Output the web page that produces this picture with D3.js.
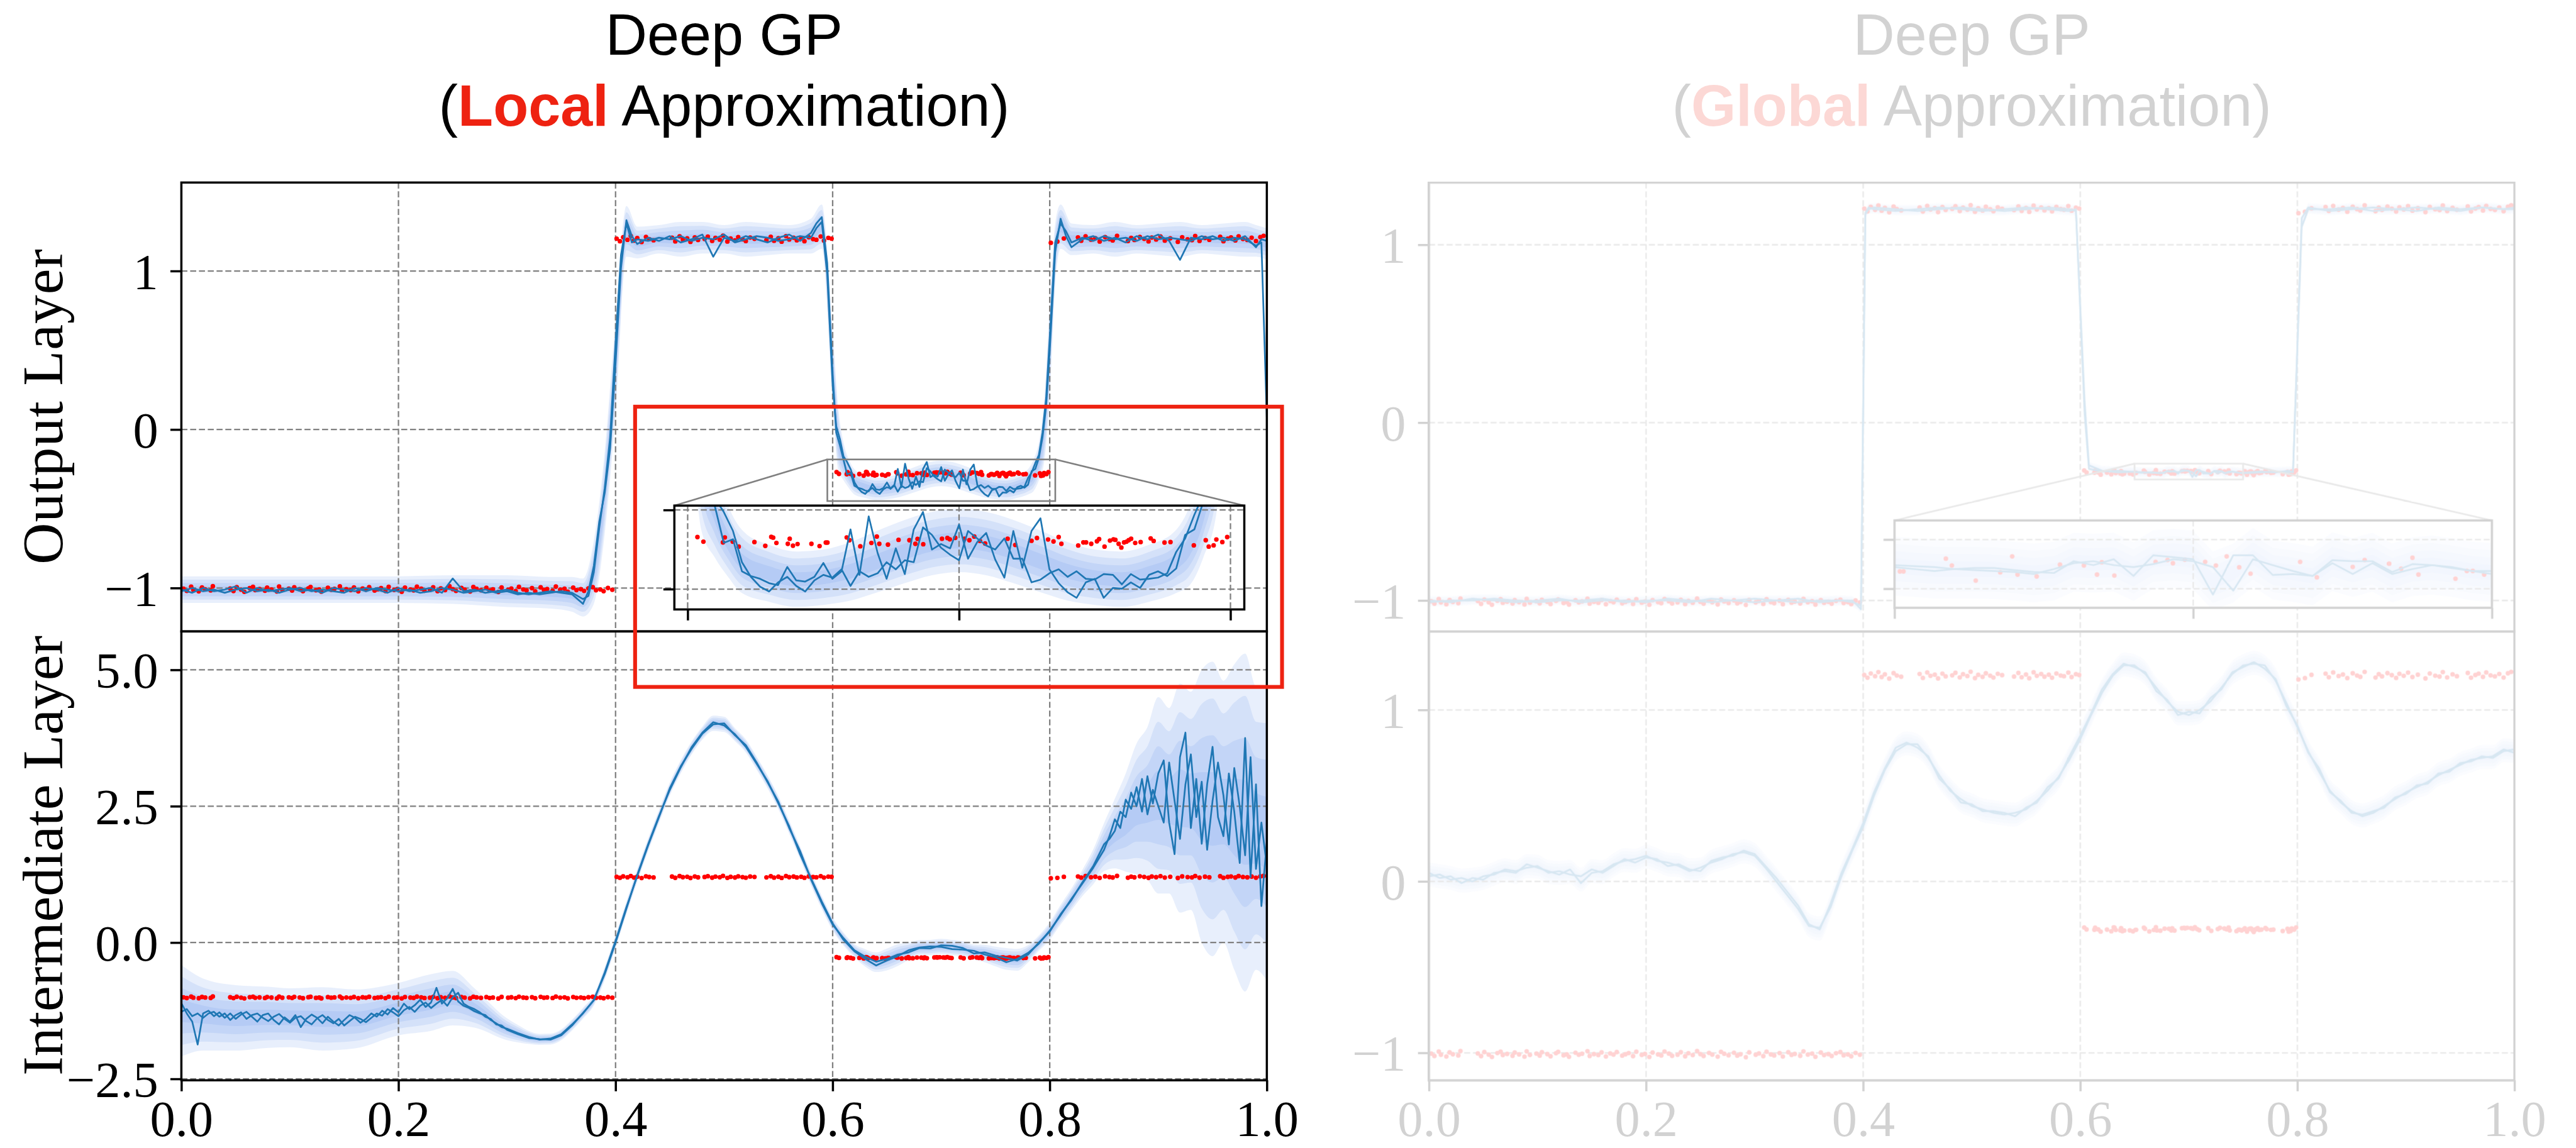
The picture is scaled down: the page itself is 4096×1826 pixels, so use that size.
<!DOCTYPE html>
<html>
<head>
<meta charset="utf-8">
<title>Deep GP: local vs global approximation</title>
<script src="https://cdn.jsdelivr.net/npm/d3@7"></script>
<style>
  html, body { margin: 0; padding: 0; background: #fff; overflow: hidden; }
  svg { display: block; }
</style>
</head>
<body>
<svg id="fig" width="4096" height="1826" viewBox="0 0 4687 2089"></svg>
<script>
// ---------------------------------------------------------------------------
// Observations (step-function targets with small noise), shared by all panels
// ---------------------------------------------------------------------------
const obsX = [
  // x < 0.4
  0.002,0.005,0.009,0.011,0.016,0.019,0.022,0.027,0.029,0.045,
  0.048,0.051,0.055,0.058,0.063,0.066,0.068,0.072,0.077,0.079,
  0.083,0.088,0.090,0.093,0.099,0.102,0.104,0.109,0.112,0.117,
  0.119,0.124,0.127,0.129,0.135,0.138,0.141,0.146,0.148,0.152,
  0.156,0.159,0.163,0.167,0.170,0.173,0.178,0.181,0.184,0.188,
  0.191,0.196,0.199,0.203,0.206,0.211,0.214,0.217,0.221,0.224,
  0.229,0.232,0.236,0.239,0.243,0.247,0.250,0.253,0.258,0.261,
  0.266,0.269,0.272,0.276,0.281,0.284,0.287,0.292,0.295,0.301,
  0.304,0.308,0.311,0.315,0.318,0.323,0.326,0.331,0.334,0.337,
  0.342,0.345,0.349,0.353,0.356,0.361,0.364,0.368,0.371,0.375,
  0.379,0.382,0.386,0.389,0.393,0.397,
  // 0.4 - 0.6
  0.401,0.404,0.407,0.411,0.414,0.417,0.420,0.424,0.428,0.431,0.435,
  0.452,0.455,0.459,0.462,0.466,0.469,0.473,0.476,
  0.482,0.485,0.489,0.492,0.496,0.499,0.503,0.506,0.510,0.513,0.517,0.520,0.524,0.528,
  0.539,0.543,0.546,0.550,0.553,0.557,0.560,0.564,0.567,0.571,0.574,0.578,0.582,0.585,0.589,0.592,0.596,0.599,
  // 0.6 - 0.8
  0.6036,0.6058,0.6130,0.6137,0.6166,0.6188,0.6246,0.6286,0.6308,0.6315,
  0.6327,0.6369,0.6376,0.6388,0.6405,0.6456,0.6486,0.6509,0.6515,0.6586,
  0.6596,0.6636,0.6677,0.6697,0.6706,0.6738,0.6777,0.6817,0.6839,0.6847,
  0.6868,0.6937,0.6957,0.6966,0.6986,0.7020,0.7038,0.7056,0.7077,0.7096,
  0.7179,0.7207,0.7267,0.7287,0.7328,0.7348,0.7367,0.7377,0.7439,0.7458,
  0.7468,0.7487,0.7508,0.7516,0.7536,0.7556,0.7569,0.7576,0.7588,0.7598,
  0.7608,0.7617,0.7625,0.7634,0.7649,0.7669,0.7706,0.7717,0.7757,0.7779,
  0.7865,0.7909,0.7920,0.7938,0.7948,0.7970,0.7988,
  // 0.8 - 1.0
  0.801,0.807,0.813,0.826,0.829,0.833,0.838,0.842,0.846,0.851,
  0.855,0.858,0.862,0.872,0.875,0.878,0.883,0.887,0.891,0.894,
  0.898,0.902,0.906,0.911,0.918,0.922,0.927,0.931,0.934,0.938,
  0.943,0.947,0.957,0.960,0.964,0.967,0.971,0.974,0.978,0.982,
  0.986,0.990,0.994,0.997
];
const obsY = [
  -1.004,-1.018,-0.992,-1.011,-1.021,-0.997,-1.008,-1.015,-0.989,-1.003,
  -1.019,-0.995,-1.010,-1.024,-1.001,-0.993,-1.013,-1.006,-1.017,-0.998,
  -1.009,-1.022,-0.991,-1.012,-1.004,-1.016,-0.996,-1.007,-1.020,-1.002,
  -0.994,-1.014,-1.009,-1.023,-0.999,-1.011,-1.005,-0.990,-1.018,-1.007,
  -1.013,-0.997,-1.021,-1.003,-1.010,-0.995,-1.016,-1.008,-1.001,-1.019,
  -0.993,-1.012,-1.006,-1.024,-0.998,-1.009,-1.015,-0.992,-1.004,-1.017,
  -1.011,-0.996,-1.020,-1.002,-1.013,-0.989,-1.007,-1.018,-1.000,-1.010,
  -1.022,-0.994,-1.005,-1.014,-0.999,-1.016,-1.008,-1.025,-0.997,-1.011,
  -1.003,-1.019,-0.993,-1.009,-1.015,-1.001,-1.021,-0.996,-1.012,-1.006,
  -1.017,-0.991,-1.010,-1.004,-1.023,-0.998,-1.013,-1.007,-1.018,-1.002,
  -0.995,-1.014,-1.009,-1.020,-1.000,-1.011,
  1.204,1.188,1.213,1.197,1.221,1.192,1.208,1.183,1.215,1.201,1.194,
  1.210,1.187,1.219,1.199,1.206,1.184,1.212,1.196,
  1.202,1.217,1.190,1.209,1.198,1.223,1.186,1.205,1.193,1.214,1.200,1.189,1.211,1.203,
  1.195,1.216,1.191,1.207,1.185,1.220,1.199,1.210,1.194,1.206,1.188,1.213,1.201,1.197,1.218,1.192,1.209,1.204,
  -0.2685,-0.2801,-0.2819,-0.2694,-0.2801,-0.2926,-0.2810,-0.2907,-0.2681,-0.2699,
  -0.2833,-0.2856,-0.2727,-0.2903,-0.2861,-0.2856,-0.2912,-0.2824,-0.2824,-0.2694,
  -0.2764,-0.2917,-0.2833,-0.2671,-0.2856,-0.2875,-0.2755,-0.2764,-0.2856,-0.2731,
  -0.2866,-0.2727,-0.2708,-0.2741,-0.2704,-0.2727,-0.2764,-0.2671,-0.2782,-0.2847,
  -0.2727,-0.2884,-0.2778,-0.2708,-0.2745,-0.2796,-0.2685,-0.2856,-0.2898,-0.2819,
  -0.2819,-0.2856,-0.2792,-0.2736,-0.2926,-0.2773,-0.2741,-0.2755,-0.2856,-0.2949,
  -0.2819,-0.2801,-0.2764,-0.2727,-0.2833,-0.2810,-0.2718,-0.2782,-0.2824,-0.2810,
  -0.2894,-0.2764,-0.2926,-0.2894,-0.2745,-0.2810,-0.2685,
  1.178,1.186,1.205,1.212,1.191,1.219,1.198,1.207,1.186,1.214,
  1.201,1.193,1.222,1.189,1.209,1.196,1.215,1.203,1.187,1.211,
  1.199,1.218,1.192,1.206,1.184,1.213,1.200,1.195,1.221,1.190,
  1.208,1.197,1.216,1.188,1.204,1.212,1.193,1.219,1.202,1.196,
  1.210,1.189,1.214,1.222
];

// ---------------------------------------------------------------------------
// Local approximation, output layer: two posterior samples + predictive spread
// ---------------------------------------------------------------------------
const outX = [
  0,0.01,0.02,0.03,0.04,0.05,0.06,0.07,0.08,0.09,0.10,0.11,0.12,0.13,0.14,0.15,0.16,0.17,0.18,0.19,
  0.20,0.21,0.22,0.23,0.24,0.25,0.26,0.27,0.28,0.29,0.30,0.31,0.32,0.33,0.34,0.35,0.36,0.37,
  0.375,0.38,0.385,0.39,0.395,0.40,0.405,0.41,0.415,0.42,
  0.43,0.44,0.45,0.46,0.47,0.48,0.49,0.50,0.51,0.52,0.53,0.54,0.55,0.56,0.57,0.58,
  0.585,0.59,0.595,0.60,
  0.6033,0.6067,0.61,0.6133,0.6167,0.62,0.6233,0.6267,0.63,0.6333,
  0.6367,0.64,0.6433,0.6467,0.65,0.6533,0.6567,0.66,0.6633,0.6667,
  0.67,0.6733,0.6767,0.68,0.6833,0.6867,0.69,0.6933,0.6967,0.70,
  0.7033,0.7067,0.71,0.7133,0.7167,0.72,0.7233,0.7267,0.73,0.7333,
  0.7367,0.74,0.7433,0.7467,0.75,0.7533,0.7567,0.76,0.7633,0.7667,
  0.77,0.7733,0.7767,0.78,0.7833,0.7867,0.79,0.7933,0.7967,
  0.80,0.805,0.81,0.815,0.82,
  0.83,0.84,0.85,0.86,0.87,0.88,0.89,0.90,0.91,0.92,0.93,0.94,0.95,0.96,0.97,0.98,0.99,0.995,1.0
];
const outA = [
  -1.01,-1.03,-1.00,-1.02,-1.01,-0.99,-1.03,-1.00,-1.02,-1.01,-1.00,-1.02,-1.01,-1.03,-1.00,-1.01,-1.02,-1.00,-1.01,-1.03,
  -1.00,-1.02,-1.01,-1.00,-1.03,-0.94,-1.02,-1.01,-1.03,-1.02,-1.01,-1.03,-1.04,-1.03,-1.02,-1.03,-1.04,-1.10,
  -1.02,-0.86,-0.58,-0.40,-0.12,0.42,1.02,1.32,1.22,1.17,
  1.21,1.19,1.22,1.18,1.20,1.23,1.09,1.21,1.19,1.22,1.20,1.18,1.21,1.23,1.19,1.24,
  1.30,1.34,1.05,0.35,
  -0.02,-0.10,-0.19,-0.283,-0.274,-0.355,-0.367,-0.374,-0.385,-0.390,
  -0.344,-0.378,-0.381,-0.369,-0.334,-0.374,-0.355,-0.249,-0.364,-0.216,
  -0.309,-0.374,-0.297,-0.362,-0.249,-0.205,-0.300,-0.286,-0.297,-0.237,
  -0.323,-0.281,-0.258,-0.325,-0.371,-0.253,-0.346,-0.253,-0.221,-0.350,
  -0.385,-0.408,-0.422,-0.383,-0.374,-0.422,-0.397,-0.399,-0.383,-0.397,
  -0.364,-0.355,-0.367,-0.348,-0.263,-0.249,-0.179,-0.05,0.15,
  0.50,1.12,1.33,1.22,1.15,
  1.20,1.22,1.19,1.21,1.18,1.22,1.20,1.23,1.19,1.07,1.21,1.20,1.22,1.19,1.21,1.20,1.16,1.18,0.07
];
const outB = [
  -1.02,-1.00,-1.02,-1.01,-1.03,-1.01,-1.00,-1.02,-1.01,-1.03,-1.01,-1.00,-1.02,-1.01,-1.02,-1.03,-1.00,-1.02,-1.00,-1.01,
  -1.02,-1.01,-1.03,-1.02,-1.00,-1.01,-1.03,-1.02,-1.01,-1.03,-1.02,-1.04,-1.03,-1.04,-1.03,-1.02,-1.03,-1.07,
  -1.05,-0.90,-0.62,-0.37,-0.05,0.55,1.10,1.30,1.18,1.20,
  1.19,1.21,1.20,1.22,1.19,1.21,1.20,1.23,1.18,1.20,1.22,1.21,1.19,1.20,1.22,1.21,
  1.27,1.31,0.98,0.28,
  0.02,-0.06,-0.17,-0.205,-0.253,-0.332,-0.369,-0.394,-0.406,-0.383,
  -0.369,-0.392,-0.406,-0.378,-0.364,-0.371,-0.350,-0.392,-0.355,-0.369,
  -0.360,-0.332,-0.350,-0.327,-0.332,-0.244,-0.263,-0.295,-0.313,-0.327,
  -0.253,-0.272,-0.290,-0.300,-0.272,-0.323,-0.323,-0.383,-0.376,-0.360,
  -0.350,-0.369,-0.355,-0.374,-0.376,-0.362,-0.364,-0.388,-0.362,-0.376,
  -0.374,-0.371,-0.360,-0.306,-0.272,-0.212,-0.161,-0.02,0.20,
  0.58,1.18,1.30,1.25,1.18,
  1.21,1.19,1.22,1.20,1.21,1.19,1.22,1.20,1.21,1.20,1.19,1.22,1.20,1.21,1.19,1.22,1.15,1.20,1.19
];
const outBandX = [
  0,0.05,0.10,0.15,0.20,0.25,0.30,0.34,0.36,0.37,
  0.38,0.39,0.40,0.41,0.42,0.44,0.46,0.48,0.50,0.52,
  0.54,0.56,0.58,0.59,0.60,0.605,0.61,0.615,0.62,0.63,
  0.64,0.65,0.66,0.67,0.68,0.69,0.70,0.71,0.72,0.73,
  0.74,0.75,0.76,0.77,0.78,0.785,0.79,0.795,0.80,0.805,
  0.81,0.82,0.84,0.86,0.88,0.90,0.92,0.94,0.96,0.98,
  0.99,1.0
];
const outBandMean = [
  -1.01,-1.01,-1.01,-1.01,-1.01,-1.01,-1.02,-1.03,-1.04,-1.06,
  -0.90,-0.40,0.40,1.25,1.18,1.20,1.20,1.21,1.20,1.20,
  1.20,1.20,1.22,1.28,0.40,-0.05,-0.20,-0.28,-0.33,-0.36,
  -0.375,-0.37,-0.355,-0.33,-0.305,-0.285,-0.277,-0.285,-0.305,-0.33,
  -0.355,-0.37,-0.375,-0.36,-0.33,-0.29,-0.20,0.00,0.50,1.10,
  1.28,1.20,1.20,1.20,1.20,1.20,1.20,1.20,1.20,1.20,
  1.19,1.17
];
const outBandSd = [
  0.042,0.042,0.042,0.042,0.042,0.045,0.05,0.05,0.055,0.06,
  0.10,0.13,0.15,0.08,0.05,0.045,0.055,0.05,0.045,0.055,
  0.05,0.045,0.055,0.07,0.12,0.10,0.06,0.045,0.04,0.036,
  0.035,0.035,0.037,0.039,0.04,0.04,0.04,0.04,0.04,0.039,
  0.037,0.035,0.035,0.036,0.04,0.05,0.06,0.10,0.15,0.10,
  0.07,0.05,0.045,0.055,0.045,0.05,0.055,0.045,0.05,0.055,
  0.05,0.05
];

// ---------------------------------------------------------------------------
// Local approximation, intermediate layer
// ---------------------------------------------------------------------------
const midX = [
  0,0.005,0.01,0.015,0.02,0.025,0.03,0.035,0.04,0.045,0.05,0.055,0.06,0.065,0.07,0.075,0.08,0.085,0.09,0.095,
  0.10,0.105,0.11,0.115,0.12,0.125,0.13,0.135,0.14,0.145,0.15,0.155,0.16,0.165,0.17,0.175,0.18,0.185,0.19,0.195,
  0.20,0.205,0.21,0.215,0.22,0.225,0.23,0.235,0.24,0.245,0.25,0.255,0.26,0.265,0.27,0.275,0.28,0.285,0.29,0.295,0.30,
  0.31,0.32,0.33,0.34,0.35,0.36,0.37,0.38,0.39,0.40,0.41,0.42,0.43,0.44,0.45,0.46,0.47,0.48,0.49,0.50,
  0.51,0.52,0.53,0.54,0.55,0.56,0.57,0.58,0.59,0.60,0.61,0.62,0.63,0.64,0.65,0.66,0.67,0.68,0.69,0.70,
  0.71,0.72,0.73,0.74,0.75,0.76,0.77,0.78,0.79,0.80,0.81,0.82,0.83,0.84,0.85,
  0.855,0.86,0.865,0.87,0.875,0.88,0.885,0.89,0.895,0.90,0.905,0.91,0.915,0.92,0.925,
  0.93,0.935,0.94,0.945,0.95,0.955,0.96,0.965,0.97,0.975,0.98,0.985,0.99,0.995,1.0
];
const midA = [
  -1.11,-1.30,-1.45,-1.87,-1.30,-1.25,-1.35,-1.28,-1.38,-1.30,
  -1.40,-1.32,-1.27,-1.36,-1.45,-1.33,-1.30,-1.42,-1.50,-1.37,
  -1.45,-1.33,-1.55,-1.40,-1.32,-1.38,-1.48,-1.36,-1.45,-1.52,
  -1.42,-1.33,-1.38,-1.47,-1.40,-1.30,-1.36,-1.25,-1.32,-1.20,
  -1.28,-1.12,-1.22,-1.15,-1.05,-1.18,-1.10,-0.83,-1.12,-1.02,
  -0.85,-1.08,-1.16,-1.20,-1.26,-1.30,-1.33,-1.42,-1.48,-1.55,
  -1.58,
  -1.66,-1.73,-1.78,-1.76,-1.68,-1.50,-1.30,-1.05,-0.58,0.00,
  0.62,1.24,1.80,2.32,2.80,3.21,3.58,3.85,4.04,3.98,
  3.82,3.59,3.28,2.96,2.55,2.13,1.62,1.18,0.75,0.35,
  0.05,-0.16,-0.30,-0.42,-0.33,-0.25,-0.14,-0.09,-0.07,-0.08,
  -0.12,-0.13,-0.15,-0.22,-0.27,-0.36,-0.30,-0.19,-0.02,0.22,
  0.50,0.80,1.08,1.37,1.70,
  1.95,2.26,2.10,2.62,2.45,2.85,2.40,3.05,2.55,3.10,
  3.34,2.20,1.62,3.40,3.85,2.10,3.00,1.81,2.90,3.59,
  2.30,1.95,3.10,2.40,1.46,3.75,1.20,2.90,0.67,1.85
];
const midB = [
  -1.27,-1.22,-1.35,-1.30,-1.38,-1.30,-1.27,-1.36,-1.30,-1.42,
  -1.33,-1.28,-1.40,-1.33,-1.30,-1.38,-1.44,-1.36,-1.31,-1.40,
  -1.47,-1.38,-1.35,-1.44,-1.50,-1.39,-1.33,-1.42,-1.48,-1.40,
  -1.52,-1.44,-1.36,-1.40,-1.46,-1.38,-1.30,-1.34,-1.22,-1.28,
  -1.35,-1.24,-1.18,-1.27,-1.16,-1.10,-1.20,-1.12,-1.05,-1.16,
  -1.00,-0.92,-1.12,-1.18,-1.22,-1.28,-1.36,-1.40,-1.50,-1.52,
  -1.60,
  -1.68,-1.75,-1.77,-1.78,-1.70,-1.52,-1.29,-1.06,-0.55,0.03,
  0.65,1.22,1.78,2.30,2.83,3.23,3.55,3.83,4.00,4.02,
  3.80,3.62,3.30,2.94,2.58,2.10,1.68,1.16,0.72,0.33,
  0.08,-0.14,-0.26,-0.35,-0.30,-0.22,-0.18,-0.10,-0.11,-0.05,
  -0.06,-0.10,-0.20,-0.18,-0.24,-0.28,-0.33,-0.22,0.00,0.20,
  0.52,0.78,1.10,1.40,1.80,
  1.90,2.05,2.40,2.30,2.75,2.50,3.00,2.35,2.80,2.50,
  2.20,3.30,2.60,1.90,2.90,3.45,2.30,2.95,1.70,2.60,
  3.30,2.70,1.80,3.20,2.50,1.60,3.40,1.35,2.20,1.40
];
const midBandX = [
  0,0.02,0.05,0.08,0.10,0.13,0.16,0.20,0.23,0.25,0.27,
  0.30,0.31,0.32,0.33,0.34,0.35,0.36,0.37,0.38,0.39,
  0.40,0.41,0.42,0.43,0.44,0.45,0.46,0.47,0.48,0.49,
  0.50,0.51,0.52,0.53,0.54,0.55,0.56,0.57,0.58,0.59,
  0.60,0.61,0.62,0.63,0.64,0.65,0.66,0.67,0.68,0.69,
  0.70,0.71,0.72,0.73,0.74,0.75,0.76,0.77,0.78,0.79,
  0.80,0.81,0.82,0.83,0.84,0.85,
  0.86,0.87,0.88,0.89,0.90,0.91,0.92,0.93,0.94,0.95,0.96,0.97,0.98,0.99,1.0
];
const midBandMean = [
  -1.25,-1.32,-1.38,-1.37,-1.38,-1.40,-1.40,-1.22,-1.10,-1.02,-1.20,
  -1.59,-1.67,-1.74,-1.775,-1.77,-1.69,-1.51,-1.295,-1.055,-0.565,
  0.015,0.635,1.23,1.79,2.31,2.815,3.22,3.565,3.84,4.02,
  4.00,3.81,3.605,3.29,2.95,2.565,2.115,1.65,1.17,0.735,
  0.34,0.065,-0.15,-0.28,-0.36,-0.31,-0.23,-0.16,-0.095,-0.09,
  -0.07,-0.09,-0.115,-0.175,-0.20,-0.255,-0.30,-0.315,-0.205,-0.01,
  0.21,0.51,0.79,1.09,1.385,1.75,
  2.0,2.2,2.45,2.55,2.7,2.6,2.65,2.6,2.5,2.45,2.4,2.3,2.2,2.1,2.0
];
const midBandSd = [
  0.42,0.33,0.30,0.28,0.27,0.29,0.27,0.24,0.26,0.25,0.18,
  0.10,0.08,0.06,0.05,0.05,0.05,0.05,0.05,0.05,0.06,
  0.06,0.06,0.06,0.06,0.06,0.06,0.06,0.06,0.06,0.07,
  0.07,0.06,0.06,0.06,0.06,0.06,0.06,0.06,0.06,0.06,
  0.06,0.06,0.06,0.08,0.09,0.10,0.10,0.08,0.07,0.07,
  0.07,0.07,0.07,0.07,0.08,0.09,0.10,0.10,0.08,0.07,
  0.08,0.09,0.10,0.12,0.16,0.22,
  0.32,0.45,0.6,0.7,0.9,0.85,1.05,1.0,1.25,1.35,1.2,1.4,1.55,1.3,1.35
];

// ---------------------------------------------------------------------------
// Global approximation, output layer
// ---------------------------------------------------------------------------
const rtX = [
  0,0.02,0.04,0.06,0.08,0.10,0.12,0.14,0.16,0.18,0.20,0.22,0.24,0.26,0.28,0.30,0.32,0.34,0.36,0.38,0.39,0.395,0.398,
  0.402,0.405,0.41,0.43,0.45,0.47,0.49,0.51,0.53,0.55,0.57,0.59,0.596,
  0.604,0.608,0.62,0.635,
  0.65,0.6533,0.6567,0.66,0.6633,0.6667,0.67,0.6733,0.6767,0.68,
  0.6833,0.6867,0.69,0.6933,0.6967,0.70,0.7033,0.7067,0.71,0.7133,
  0.7167,0.72,0.7233,0.7267,0.73,0.7333,0.7367,0.74,0.7433,0.7467,0.75,
  0.765,0.78,0.792,0.796,
  0.804,0.81,0.83,0.85,0.87,0.89,0.91,0.93,0.95,0.97,0.99,1.0
];
const rtA = [
  -1.00,-1.01,-0.99,-1.00,-1.01,-1.00,-0.99,-1.01,-1.00,-1.00,-1.01,-0.99,-1.00,-1.01,-1.00,-0.99,-1.00,-1.01,-1.00,-1.00,-1.00,-1.03,-1.05,
  1.18,1.21,1.20,1.19,1.20,1.21,1.20,1.19,1.20,1.21,1.20,1.19,1.20,
  0.05,-0.26,-0.275,-0.27,
  -0.278,-0.280,-0.282,-0.280,-0.279,-0.279,-0.281,-0.283,-0.284,-0.272,
  -0.276,-0.270,-0.287,-0.266,-0.268,-0.270,-0.306,-0.266,-0.266,-0.286,
  -0.285,-0.287,-0.271,-0.272,-0.272,-0.283,-0.275,-0.276,-0.278,-0.282,-0.282,
  -0.275,-0.28,-0.27,-0.28,
  1.15,1.21,1.19,1.20,1.21,1.20,1.19,1.21,1.20,1.21,1.20,1.21
];
const rtB = [
  -1.01,-1.00,-1.00,-0.99,-1.00,-1.01,-1.00,-1.00,-0.99,-1.01,-1.00,-1.00,-1.01,-0.99,-1.00,-1.01,-1.00,-0.99,-1.01,-1.00,-1.01,-1.02,-1.03,
  1.17,1.20,1.21,1.20,1.19,1.20,1.21,1.20,1.19,1.20,1.21,1.20,1.19,
  0.12,-0.24,-0.27,-0.28,
  -0.276,-0.277,-0.278,-0.280,-0.281,-0.282,-0.283,-0.285,-0.280,-0.274,
  -0.272,-0.276,-0.278,-0.275,-0.270,-0.272,-0.278,-0.302,-0.270,-0.276,
  -0.282,-0.287,-0.274,-0.285,-0.274,-0.285,-0.280,-0.276,-0.279,-0.282,-0.285,
  -0.28,-0.275,-0.28,-0.275,
  1.10,1.20,1.20,1.21,1.19,1.20,1.21,1.20,1.19,1.21,1.20,1.20
];
const rtSpread = 0.015;

// ---------------------------------------------------------------------------
// Global approximation, intermediate layer
// ---------------------------------------------------------------------------
const rbX = [
  0,0.01,0.02,0.03,0.04,0.05,0.06,0.07,0.08,0.09,
  0.10,0.11,0.12,0.13,0.14,0.15,0.16,0.17,0.18,0.19,
  0.20,0.21,0.22,0.23,0.24,0.25,0.26,0.27,0.28,0.29,
  0.30,0.31,0.32,0.33,0.34,0.35,0.36,0.37,0.38,0.39,
  0.40,0.41,0.42,0.43,0.44,0.45,0.46,0.47,0.48,0.49,
  0.50,0.51,0.52,0.53,0.54,0.55,0.56,0.57,0.58,0.59,
  0.60,0.61,0.62,0.63,0.64,0.65,0.66,0.67,0.68,0.69,
  0.70,0.71,0.72,0.73,0.74,0.75,0.76,0.77,0.78,0.79,
  0.80,0.81,0.82,0.83,0.84,0.85,0.86,0.87,0.88,0.89,
  0.90,0.91,0.92,0.93,0.94,0.95,0.96,0.97,0.98,0.99,1.0
];
const rbA = [
  0.05,0.02,0.03,-0.01,0.02,0.01,0.05,0.06,0.05,0.10,
  0.08,0.06,0.04,0.07,-0.01,0.05,0.06,0.10,0.12,0.13,
  0.15,0.12,0.11,0.09,0.06,0.08,0.11,0.13,0.16,0.17,
  0.15,0.08,0.00,-0.08,-0.16,-0.26,-0.27,-0.15,0.03,0.18,
  0.32,0.50,0.65,0.76,0.80,0.80,0.72,0.62,0.53,0.48,
  0.44,0.42,0.40,0.39,0.40,0.42,0.47,0.53,0.61,0.71,
  0.83,0.97,1.10,1.20,1.26,1.26,1.21,1.13,1.05,0.99,
  0.97,1.00,1.05,1.13,1.21,1.26,1.27,1.26,1.17,1.04,
  0.90,0.76,0.64,0.53,0.46,0.41,0.38,0.40,0.44,0.48,
  0.52,0.55,0.58,0.62,0.65,0.68,0.71,0.72,0.73,0.77,
  0.75
];
const rbB = [
  0.03,0.04,0.01,0.02,0.00,0.03,0.04,0.07,0.06,0.08,
  0.09,0.05,0.06,0.04,0.03,0.07,0.05,0.09,0.13,0.11,
  0.14,0.13,0.09,0.10,0.07,0.06,0.12,0.14,0.15,0.18,
  0.16,0.09,0.02,-0.06,-0.14,-0.25,-0.28,-0.13,0.05,0.19,
  0.34,0.52,0.66,0.78,0.81,0.78,0.73,0.60,0.54,0.46,
  0.45,0.41,0.41,0.40,0.38,0.43,0.46,0.55,0.60,0.73,
  0.85,0.98,1.12,1.21,1.27,1.25,1.22,1.11,1.06,0.97,
  0.99,0.98,1.07,1.12,1.22,1.25,1.28,1.24,1.18,1.02,
  0.91,0.75,0.66,0.52,0.47,0.40,0.39,0.41,0.43,0.49,
  0.51,0.56,0.57,0.63,0.64,0.69,0.70,0.73,0.72,0.76,
  0.77
];
const rbSpread = 0.035;

// ticks
const xTickValues = [0, 0.2, 0.4, 0.6, 0.8, 1.0];
const xGridValues = [0.2, 0.4, 0.6, 0.8];
const outTicks = [-1, 0, 1];
const midTicks = [-2.5, 0, 2.5, 5];
const globalTicks = [-1, 0, 1];
const localZoomX = [0.6, 0.7, 0.8], localZoomY = [-0.4, -0.2];
const globalZoomX = [0.65, 0.70, 0.75], globalZoomY = [-0.30, -0.25];
// zoom windows and highlighted region (data units of the output-layer axes)
const localZoomDomain = { x: [0.5951, 0.8051], y: [-0.4514, -0.1889] };
const globalZoomDomain = { x: [0.65, 0.75], y: [-0.3194, -0.2306] };
const highlightX = [0.418, 1.014], highlightY = [-1.624, 0.144];

// ---------------------------------------------------------------------------
// Drawing
// ---------------------------------------------------------------------------
const SERIF = "'Liberation Serif','DejaVu Serif',serif";
const SANS = "'Liberation Sans',Arial,sans-serif";
const INK = '#000', GRID_GREY = '#808080', LINE_BLUE = '#1f77b4';
const DOT_RED = '#ff0000', BAND_BLUE = '#6495ed', ACCENT = '#ee2211';
const BAND_K = [2, 1.5, 1, 0.5];
const TICK = 20;

const svg = d3.select('#fig');
const pts = (xs, ys) => d3.zip(xs, ys);
const band = (xs, ms, ss) => d3.zip(xs, ms, ss).map(([x, m, s]) => ({ x, m, s }));
const bandFromSamples = (xs, a, b, s) => d3.zip(xs, a, b).map(([x, u, v]) => ({ x, m: (u + v) / 2, s }));
const observations = pts(obsX, obsY);

function styleAxis(ax) {
  ax.select('.domain').remove();
  ax.attr('font-family', SERIF).attr('font-size', 92).attr('color', INK);
  ax.selectAll('.tick line').attr('stroke-width', 4);
}

function drawPlot(parent, p) {
  const g = parent.append('g');
  const x = d3.scaleLinear().domain(p.xDomain).range([p.left, p.right]);
  const y = d3.scaleLinear().domain(p.yDomain).range([p.bottom, p.top]);
  const w = p.right - p.left, h = p.bottom - p.top;
  if (p.opaque) g.append('rect').attr('x', p.left).attr('y', p.top).attr('width', w).attr('height', h).attr('fill', '#fff');
  g.append('clipPath').attr('id', p.id).append('rect')
    .attr('x', p.left).attr('y', p.top).attr('width', w).attr('height', h);
  const body = g.append('g').attr('clip-path', `url(#${p.id})`);

  // predictive spread, widest first
  if (p.band) {
    BAND_K.forEach(k => {
      body.append('path').datum(p.band)
        .attr('fill', BAND_BLUE).attr('fill-opacity', 0.15)
        .attr('d', d3.area().x(d => x(d.x)).y0(d => y(d.m - k * d.s)).y1(d => y(d.m + k * d.s))
          .curve(p.bandCurve || d3.curveMonotoneX));
    });
  }
  // dashed grid
  const grid = body.append('g').attr('stroke', GRID_GREY).attr('stroke-width', 2.6)
    .attr('stroke-dasharray', '11,5').attr('fill', 'none');
  (p.xGrid || []).forEach(v => grid.append('line').attr('x1', x(v)).attr('x2', x(v)).attr('y1', p.top).attr('y2', p.bottom));
  (p.yGrid || []).forEach(v => grid.append('line').attr('x1', p.left).attr('x2', p.right).attr('y1', y(v)).attr('y2', y(v)));
  // observations
  body.append('g').attr('fill', DOT_RED).selectAll('circle').data(p.obs).join('circle')
    .attr('cx', d => x(d[0])).attr('cy', d => y(d[1])).attr('r', 4.2);
  // posterior samples
  const line = d3.line().x(d => x(d[0])).y(d => y(d[1]));
  p.lines.forEach(s => body.append('path').datum(s).attr('d', line).attr('fill', 'none')
    .attr('stroke', LINE_BLUE).attr('stroke-width', 3.1).attr('stroke-linejoin', 'round'));
  // frame
  g.append('rect').attr('x', p.left).attr('y', p.top).attr('width', w).attr('height', h)
    .attr('fill', 'none').attr('stroke', INK).attr('stroke-width', 4);
  // axes
  if (p.yTicks) {
    const ax = g.append('g').attr('transform', `translate(${p.left},0)`)
      .call(d3.axisLeft(y).tickValues(p.yTicks).tickSize(TICK).tickFormat(p.yFormat || (() => '')));
    styleAxis(ax);
    ax.selectAll('.tick text').attr('x', -42).attr('dy', '0.35em');
  }
  if (p.xTicks) {
    const ax = g.append('g').attr('transform', `translate(0,${p.bottom})`)
      .call(d3.axisBottom(x).tickValues(p.xTicks).tickSize(TICK).tickFormat(p.xFormat || (() => '')));
    styleAxis(ax);
    ax.selectAll('.tick text').attr('y', 102).attr('dy', null);
  }
  return { x, y, g, box: p };
}

function markZoom(parent, main, zoomDomain, box) {
  const g = parent.append('g').attr('stroke', GRID_GREY).attr('stroke-width', 3).attr('fill', 'none');
  const x0 = main.x(zoomDomain.x[0]), x1 = main.x(zoomDomain.x[1]);
  const yT = main.y(zoomDomain.y[1]), yB = main.y(zoomDomain.y[0]);
  g.append('rect').attr('x', x0).attr('y', yT).attr('width', x1 - x0).attr('height', yB - yT);
  g.append('line').attr('x1', x0).attr('y1', yT).attr('x2', box.left).attr('y2', box.top);
  g.append('line').attr('x1', x1).attr('y1', yT).attr('x2', box.right).attr('y2', box.top);
}

function drawTitle(parent, cx, word) {
  const t = parent.append('g').attr('font-family', SANS).attr('font-size', 105)
    .attr('text-anchor', 'middle').attr('fill', INK);
  t.append('text').attr('x', cx).attr('y', 99).text('Deep GP');
  const l2 = t.append('text').attr('x', cx).attr('y', 229);
  l2.append('tspan').text('(');
  l2.append('tspan').attr('fill', ACCENT).attr('font-weight', 'bold').text(word);
  l2.append('tspan').text(' Approximation)');
}

function yLabel(parent, cy, text, len) {
  parent.append('text').attr('transform', `translate(113,${cy}) rotate(-90)`)
    .attr('text-anchor', 'middle').attr('font-family', SERIF).attr('font-size', 105)
    .attr('textLength', len).attr('lengthAdjust', 'spacing').attr('fill', INK).text(text);
}

const ROW = { top: 332, mid: 1149, bottom: 1966 };
const fmtInt = d3.format('d'), fmt1 = d3.format('.1f');

// ---------------- Local approximation (left) ----------------
const left = svg.append('g');
drawTitle(left, 1317.5, 'Local');
yLabel(left, 740, 'Output Layer', 574);
yLabel(left, 1557, 'Intermediate Layer', 801);

const localOut = drawPlot(left, {
  id: 'clip-local-out', left: 330, right: 2305, top: ROW.top, bottom: ROW.mid,
  xDomain: [0, 1], yDomain: [-1.2738, 1.5581],
  band: band(outBandX, outBandMean, outBandSd),
  obs: observations, lines: [pts(outX, outA), pts(outX, outB)],
  xGrid: xGridValues, yGrid: outTicks, yTicks: outTicks, yFormat: fmtInt
});
drawPlot(left, {
  id: 'clip-local-mid', left: 330, right: 2305, top: ROW.mid, bottom: ROW.bottom,
  xDomain: [0, 1], yDomain: [-2.5255, 5.705], bandCurve: d3.curveMonotoneX,
  band: band(midBandX, midBandMean, midBandSd),
  obs: observations, lines: [pts(midX, midA), pts(midX, midB)],
  xGrid: xGridValues, yGrid: midTicks, yTicks: midTicks, yFormat: fmt1,
  xTicks: xTickValues, xFormat: fmt1
});
const localBox = { left: 1227, right: 2264, top: 920, bottom: 1109 };
markZoom(left, localOut, localZoomDomain, localBox);
drawPlot(left, {
  id: 'clip-local-zoom', ...localBox, opaque: true,
  xDomain: localZoomDomain.x, yDomain: localZoomDomain.y,
  band: band(outBandX, outBandMean, outBandSd),
  obs: observations, lines: [pts(outX, outA), pts(outX, outB)],
  xGrid: localZoomX, yGrid: localZoomY, yTicks: localZoomY, xTicks: localZoomX
});
// highlighted region
svg.append('rect')
  .attr('x', localOut.x(highlightX[0])).attr('y', localOut.y(highlightY[1]))
  .attr('width', localOut.x(highlightX[1]) - localOut.x(highlightX[0]))
  .attr('height', localOut.y(highlightY[0]) - localOut.y(highlightY[1]))
  .attr('fill', 'none').attr('stroke', ACCENT).attr('stroke-width', 7);

// ---------------- Global approximation (right, de-emphasised) ----------------
const right = svg.append('g').attr('opacity', 0.18);
drawTitle(right, 3587.5, 'Global');
const globalOut = drawPlot(right, {
  id: 'clip-global-out', left: 2600, right: 4575, top: ROW.top, bottom: ROW.mid,
  xDomain: [0, 1], yDomain: [-1.174, 1.350], bandCurve: d3.curveLinear,
  band: bandFromSamples(rtX, rtA, rtB, rtSpread),
  obs: observations, lines: [pts(rtX, rtA), pts(rtX, rtB)],
  xGrid: xGridValues, yGrid: globalTicks, yTicks: globalTicks, yFormat: fmtInt
});
drawPlot(right, {
  id: 'clip-global-mid', left: 2600, right: 4575, top: ROW.mid, bottom: ROW.bottom,
  xDomain: [0, 1], yDomain: [-1.160, 1.458],
  band: bandFromSamples(rbX, rbA, rbB, rbSpread),
  obs: observations, lines: [pts(rbX, rbA), pts(rbX, rbB)],
  xGrid: xGridValues, yGrid: globalTicks, yTicks: globalTicks, yFormat: fmtInt,
  xTicks: xTickValues, xFormat: fmt1
});
const globalBox = { left: 3447, right: 4534, top: 947, bottom: 1106 };
markZoom(right, globalOut, globalZoomDomain, globalBox);
drawPlot(right, {
  id: 'clip-global-zoom', ...globalBox, opaque: true,
  xDomain: globalZoomDomain.x, yDomain: globalZoomDomain.y, bandCurve: d3.curveLinear,
  band: bandFromSamples(rtX, rtA, rtB, rtSpread),
  obs: observations, lines: [pts(rtX, rtA), pts(rtX, rtB)],
  xGrid: globalZoomX, yGrid: globalZoomY, yTicks: globalZoomY, xTicks: globalZoomX
});
</script>
</body>
</html>
